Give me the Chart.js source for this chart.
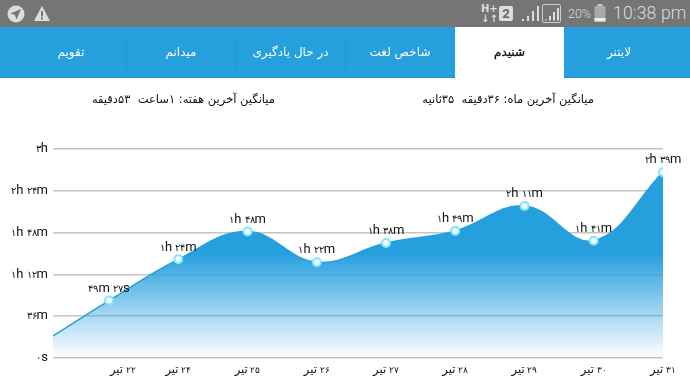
<!DOCTYPE html>
<html lang="fa">
<head>
<meta charset="utf-8">
<title>شنیدم</title>
<script src="https://cdn.jsdelivr.net/npm/chart.js@4"></script>
<style>
    /* Persian digits in the reference are much smaller than the latin letters next to them */
    @font-face { font-family: "SmallDigits"; src: local("DejaVu Sans"); size-adjust: 76%; unicode-range: U+06F0-06F9; }
    html, body { margin: 0; padding: 0; background: #fff; }
    body { width: 690px; height: 388px; overflow: hidden; position: relative; font-family: "DejaVu Sans", sans-serif; }
    #chart { position: absolute; left: 0; top: 0; }
    #status { position: absolute; left: 0; top: 0; width: 690px; height: 27px; background: #757575; color: #ddd; }
    #status > * { position: absolute; }
    #clock { left: 613px; top: 3px; font: 300 17.5px Roboto, sans-serif; letter-spacing: .2px; white-space: nowrap; }
    #battery { left: 568px; top: 6px; font: 300 12.5px Roboto, sans-serif; }
    #simnum { left: 499px; top: 6px; width: 14px; height: 15px; background: #ddd; color: #666; border-radius: 2px; font: 700 13px/15px Roboto, sans-serif; text-align: center; }
    #hplus { left: 481px; top: 4px; font: 700 10px/10px "DejaVu Sans", sans-serif; }
    #tabs { position: absolute; left: 0; top: 27px; width: 690px; height: 51px; background: #269fdd; box-shadow: inset 0 -1px 0 #1f93d0; }
    .tab { position: absolute; top: 0; height: 51px; line-height: 50px; text-align: center; color: #fff; font-size: 12px; direction: rtl; }
    .tab.active { background: #fff; color: #111; height: 52px; -webkit-text-stroke: .3px #111; }
    .sep { position: absolute; top: 9px; width: 1px; height: 34px; background: #2a93cb; }
    .avg { position: absolute; top: 91px; font-size: 11.5px; color: #111; direction: rtl; white-space: pre; line-height: 16px; }
</style>
</head>
<body>
<canvas id="chart" width="690" height="388"></canvas>

<div id="status">
    <svg style="left:7px;top:5px" width="18" height="18" viewBox="0 0 18 18"><circle cx="9" cy="9" r="8.5" fill="#ddd"/><path d="M14 4 L3.5 8.5 L8 10 L9.5 14.5 Z" fill="#757575"/></svg>
    <svg style="left:33px;top:5px" width="18" height="17" viewBox="0 0 18 17"><path d="M9 1 L17 16 L1 16 Z" fill="#ddd"/><rect x="8" y="6" width="2" height="5.5" fill="#757575"/><rect x="8" y="12.5" width="2" height="2" fill="#757575"/></svg>
    <div id="hplus">H+<br>↓↑</div>
    <div id="simnum">2</div>
    <svg style="left:521px;top:5px" width="19" height="17" viewBox="0 0 19 17"><path d="M1 14h2v2H1zM6 11h2v5H6zM11 6h2v10h-2zM16 1h2v15h-2z" fill="#ddd"/></svg>
    <svg style="left:542px;top:4px" width="19" height="19" viewBox="0 0 19 19"><rect x=".5" y=".5" width="18" height="18" rx="1.5" fill="none" stroke="#ccc"/><path d="M3 15h1.500v1.500H3zM7 12h2v4.500H7zM11 8h2v8.500h-2zM15 4h2v12.500h-2z" fill="#ddd"/></svg>
    <div id="battery">20%</div>
    <svg style="left:594px;top:4px" width="12" height="18" viewBox="0 0 12 18"><rect x="3.500" y="0" width="5" height="2" fill="#ccc"/><rect x="0.500" y="2" width="11" height="15.500" fill="#aaa"/><rect x="0.500" y="14" width="11" height="3.500" fill="#eee"/></svg>
    <div id="clock">10:38 pm</div>
</div>

<div id="tabs">
    <div class="tab" style="left:16px;width:110px">تقویم</div>
    <div class="sep" style="left:126px"></div>
    <div class="tab" style="left:126px;width:110px">میدانم</div>
    <div class="sep" style="left:235px"></div>
    <div class="tab" style="left:236px;width:109px">در حال یادگیری</div>
    <div class="sep" style="left:345px"></div>
    <div class="tab" style="left:345px;width:110px">شاخص لغت</div>
    <div class="tab active" style="left:455px;width:109px">شنیدم</div>
    <div class="tab" style="left:564px;width:110px">لایتنر</div>
</div>

<div class="avg" style="right:415px">میانگین آخرین هفته: ۱ساعت  ۵۳دقیقه</div>
<div class="avg" style="right:96px">میانگین آخرین ماه: ۳۶دقیقه  ۳۵ثانیه</div>

<script>
// days of the month (Tir) for each point, first one sits off the daily grid
const days = [22.19, 23, 24, 25, 26, 27, 28, 29, 30, 31];
// listening time in minutes
const minutes = [19, 49.5, 85, 109, 82.5, 99, 109.5, 131, 101, 160];
const pointLabels = [null, '۴۹m ۲۷s', '۱h ۲۴m', '۱h ۴۸m', '۱h ۲۲m', '۱h ۳۸m', '۱h ۴۹m', '۲h ۱۱m', '۱h ۴۱m', '۲h ۳۹m'];

const yTickLabels = ['۰s', '۳۶m', '۱h ۱۲m', '۱h ۴۸m', '۲h ۲۴m', '۳h'];
const xTickValues = [23.2, 24, 25, 26, 27, 28, 29, 30, 31];
const xTickLabels = ['۲۲ تیر', '۲۴ تیر', '۲۵ تیر', '۲۶ تیر', '۲۷ تیر', '۲۸ تیر', '۲۹ تیر', '۳۰ تیر', '۳۱ تیر'];

const fontFamily = 'SmallDigits, Roboto, "DejaVu Sans", sans-serif';

// time labels above each point
const valueLabels = {
    id: 'valueLabels',
    afterDatasetsDraw(chart) {
        const ctx = chart.ctx;
        const points = chart.getDatasetMeta(0).data;
        ctx.save();
        ctx.font = '13px ' + fontFamily;
        ctx.fillStyle = '#111';
        ctx.textAlign = 'center';
        ctx.textBaseline = 'middle';
        points.forEach((pt, i) => {
            if (pointLabels[i]) ctx.fillText(pointLabels[i], pt.x, pt.y - 12);
        });
        ctx.restore();
    }
};

function areaFill(context) {
    const area = context.chart.chartArea;
    if (!area) return 'rgba(38,159,221,1)';
    const g = context.chart.ctx.createLinearGradient(0, area.top, 0, area.bottom);
    g.addColorStop(0, 'rgba(38,159,221,1)');
    g.addColorStop(0.5, 'rgba(38,159,221,1)');
    g.addColorStop(1, 'rgba(38,159,221,0)');
    return g;
}

function drawChart() {
    new Chart(document.getElementById('chart'), {
        type: 'line',
        data: {
            datasets: [{
                data: days.map((d, i) => ({ x: d, y: minutes[i] })),
                borderColor: '#269fdd',
                borderWidth: 1.5,
                backgroundColor: areaFill,
                fill: 'origin',
                tension: 0.4,
                pointRadius: days.map((d, i) => pointLabels[i] ? 4 : 0),
                pointBackgroundColor: '#f0fdff',
                pointBorderColor: '#7fe6ff',
                pointBorderWidth: 2
            }]
        },
        options: {
            responsive: false,
            animation: false,
            layout: { padding: { top: 149, right: 27, bottom: 0, left: 0 } },
            plugins: { legend: { display: false }, tooltip: { enabled: false } },
            scales: {
                x: {
                    type: 'linear',
                    min: days[0],
                    max: days[days.length - 1],
                    grid: { display: false, drawTicks: false },
                    border: { display: false },
                    afterBuildTicks: scale => { scale.ticks = xTickValues.map(v => ({ value: v })); },
                    afterFit: scale => { scale.height = 30; },
                    ticks: {
                        autoSkip: false,
                        maxRotation: 0,
                        padding: 5,
                        color: '#111',
                        font: { size: 11.5, family: fontFamily },
                        // embedding keeps the day number on the right of the month name
                        callback: (v, i) => '\u202B' + xTickLabels[i] + '\u202C'
                    }
                },
                y: {
                    min: 0,
                    max: 180,
                    grid: { color: '#c4c4c4', lineWidth: 1.5, drawTicks: false },
                    border: { display: false },
                    afterFit: scale => { scale.width = 53; },
                    ticks: {
                        stepSize: 36,
                        padding: 5,
                        color: '#111',
                        font: { size: 13, family: fontFamily },
                        callback: (v, i) => yTickLabels[i]
                    }
                }
            }
        },
        plugins: [valueLabels]
    });
}

// the canvas can only use the digit face once it is loaded
document.fonts.load('13px SmallDigits', '۲').then(drawChart, drawChart);
</script>
</body>
</html>
